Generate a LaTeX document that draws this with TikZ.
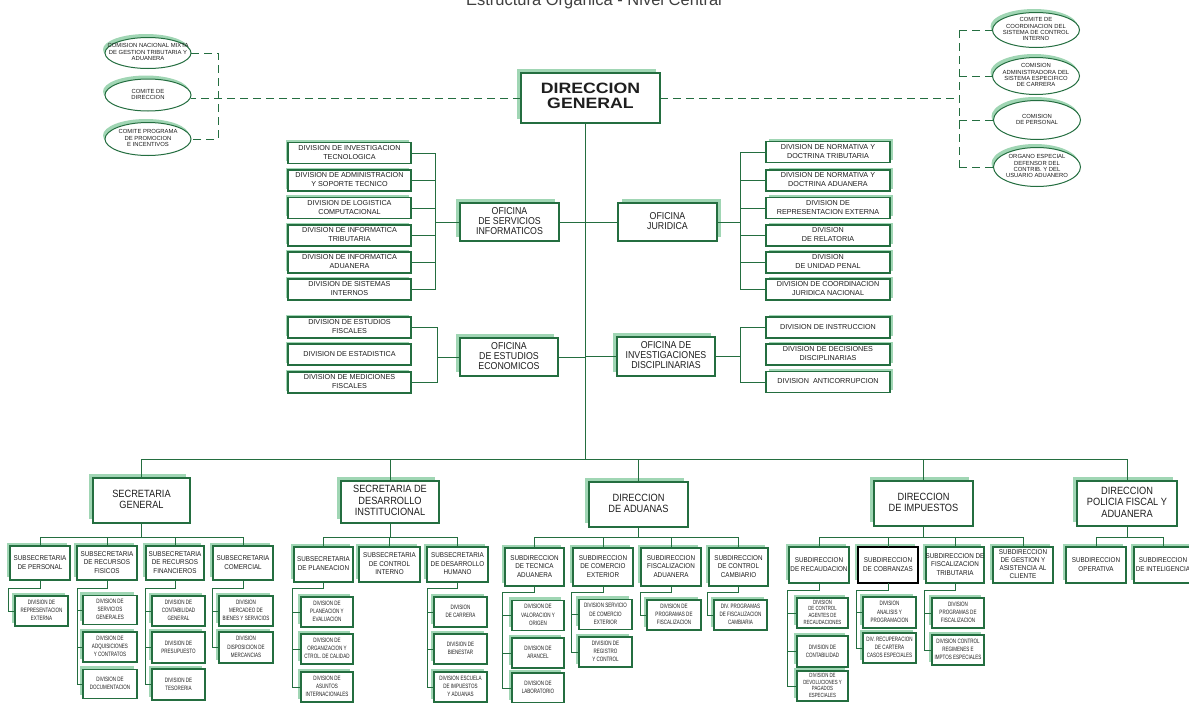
\documentclass[tikz,border=0pt]{standalone}
\usepackage{fontspec}
\setmainfont{Liberation Sans}
\newfontfamily\lsN{Liberation Sans}
\newfontfamily\lsA[FakeStretch=0.88]{Liberation Sans}
\newfontfamily\lsB[FakeStretch=0.72]{Liberation Sans}
\newfontfamily\lsS[FakeStretch=0.90]{Liberation Sans}
\newfontfamily\lsW[FakeStretch=1.18]{Liberation Sans}
\usetikzlibrary{shapes.geometric,shadows}

\definecolor{dgreen}{RGB}{36,110,64}
\definecolor{lgreen}{RGB}{160,214,180}
\definecolor{ink}{RGB}{30,30,30}

% multi-line label that never widens its box
\newcommand\mlines[1]{\makebox[0pt]{\begin{tabular}{@{}c@{}}#1\end{tabular}}}

\tikzset{
  conn/.style={draw=dgreen, line width=1pt},
  dashconn/.style={draw=dgreen, line width=1pt, dash pattern=on 8pt off 5pt},
  frame/.style={draw=dgreen, line width=1.2pt, fill=white, inner sep=0pt, outer sep=0pt, text=ink},
  shUL/.style={drop shadow={shadow xshift=-#1, shadow yshift=#1, fill=lgreen, opacity=1}},
  shUR/.style={drop shadow={shadow xshift=#1, shadow yshift=#1, fill=lgreen, opacity=1}},
  headbox/.style={frame, font={\lsW\bfseries\fontsize{15}{14}\selectfont}, shUL=4.5pt},
  office/.style={frame, font={\lsA\fontsize{10}{10}\selectfont}, shUL=4pt},
  officeR/.style={frame, font={\lsA\fontsize{10}{10}\selectfont}, shUR=4pt},
  divL/.style={frame, font={\lsN\fontsize{7.2}{8.6}\selectfont}, shUL=2.5pt, minimum width=123, minimum height=21},
  divR/.style={frame, font={\lsN\fontsize{7.2}{8.6}\selectfont}, shUR=2.5pt, minimum width=124, minimum height=21},
  bigbox/.style={frame, font={\lsA\fontsize{10.5}{11.5}\selectfont}, shUL=4pt},
  subbox/.style={frame, font={\lsS\fontsize{7}{8.6}\selectfont}, shUL=3pt},
  lowdiv/.style={frame, font={\lsB\fontsize{6.3}{8.2}\selectfont}, shUL=3.5pt},
  ell/.style={ellipse, draw=dgreen, line width=1pt, fill=white, inner sep=0pt, outer sep=0pt,
    drop shadow={shadow xshift=-2pt, shadow yshift=3.5pt, fill=lgreen, opacity=1}},
  elltext/.style={font={\lsN\fontsize{5.9}{6.4}\selectfont}, text=ink, inner sep=0pt},
}

\begin{document}
\begin{tikzpicture}[x=1pt,y=-1pt]
\fill[white] (0,0) rectangle (1189,702);
\useasboundingbox (0,0) rectangle (1189,702);

% ---------- title ----------
\node[font={\lsN\fontsize{16.5}{18}\selectfont}, text=ink!85, anchor=base, inner sep=0pt] (title) at (594,5) {Estructura Organica - Nivel Central};

% ---------- head ----------
\node[headbox, minimum width=139, minimum height=50] (dg) at (590.5,98) {\mlines{DIRECCION\\GENERAL}};

% ---------- committees ----------
\node[ell, minimum width=86, minimum height=31] (l1) at (148,53) {};
\node[elltext] (l1t) at (l1.center) {\mlines{COMISION NACIONAL MIXTA\\DE GESTION TRIBUTARIA Y\\ADUANERA}};
\node[ell, minimum width=86, minimum height=32] (l2) at (148,95) {};
\node[elltext] (l2t) at (l2.center) {\mlines{COMITE DE\\DIRECCION}};
\node[ell, minimum width=86, minimum height=33] (l3) at (148,139) {};
\node[elltext] (l3t) at (l3.center) {\mlines{COMITE PROGRAMA\\DE PROMOCION\\E INCENTIVOS}};

\node[ell, minimum width=87, minimum height=35] (r1) at (1036,30) {};
\node[elltext] (r1t) at (r1.center) {\mlines{COMITE DE\\COORDINACION DEL\\SISTEMA DE CONTROL\\INTERNO}};
\node[ell, minimum width=87, minimum height=37] (r2) at (1036,76) {};
\node[elltext] (r2t) at (r2.center) {\mlines{COMISION\\ADMINISTRADORA DEL\\SISTEMA ESPECIFICO\\DE CARRERA}};
\node[ell, minimum width=87, minimum height=39] (r3) at (1037,120) {};
\node[elltext] (r3t) at (r3.center) {\mlines{COMISION\\DE PERSONAL}};
\node[ell, minimum width=87, minimum height=39] (r4) at (1037,167) {};
\node[elltext] (r4t) at (r4.center) {\mlines{ORGANO ESPECIAL\\DEFENSOR DEL\\CONTRIB. Y DEL\\USUARIO ADUANERO}};

\coordinate (vl) at (218,0);
\coordinate (vr) at (959,0);
\draw[dashconn] (dg.west) -- (dg.west -| l2.east);
\draw[dashconn] (l1.east) -- (l1.east -| vl) -- (l3.east -| vl) -- (l3.east);
\draw[dashconn] (dg.east) -- (dg.east -| vr);
\draw[dashconn] (r1.west -| vr) -- (r4.west -| vr);
\foreach \n in {r1,r2,r3,r4} \draw[dashconn] (\n.west -| vr) -- (\n.west);

% ---------- staff offices ----------
\node[office, minimum width=99, minimum height=38] (osi) at (509.5,222) {\mlines{OFICINA\\DE SERVICIOS\\INFORMATICOS}};
\node[office, minimum width=98, minimum height=38] (oee) at (509,357) {\mlines{OFICINA\\DE ESTUDIOS\\ECONOMICOS}};
\node[officeR, minimum width=99, minimum height=38] (oju) at (667.5,222) {\mlines{OFICINA\\JURIDICA}};
\node[office, minimum width=98, minimum height=39] (oid) at (666,356.5) {\mlines{OFICINA DE\\INVESTIGACIONES\\DISCIPLINARIAS}};

\node[divL] (dsi1) at (349.5,153)   {\mlines{DIVISION DE INVESTIGACION\\TECNOLOGICA}};
\node[divL] (dsi2) at (349.5,180.5) {\mlines{DIVISION DE ADMINISTRACION\\Y SOPORTE TECNICO}};
\node[divL] (dsi3) at (349.5,208)   {\mlines{DIVISION DE LOGISTICA\\COMPUTACIONAL}};
\node[divL] (dsi4) at (349.5,235.5) {\mlines{DIVISION DE INFORMATICA\\TRIBUTARIA}};
\node[divL] (dsi5) at (349.5,262.5) {\mlines{DIVISION DE INFORMATICA\\ADUANERA}};
\node[divL] (dsi6) at (349.5,289.5) {\mlines{DIVISION DE SISTEMAS\\INTERNOS}};

\node[divL] (dee1) at (349.5,327.5) {\mlines{DIVISION DE ESTUDIOS\\FISCALES}};
\node[divL] (dee2) at (349.5,354.5) {\mlines{DIVISION DE ESTADISTICA}};
\node[divL] (dee3) at (349.5,382.5) {\mlines{DIVISION DE MEDICIONES\\FISCALES}};

\node[divR] (dju1) at (828,152)   {\mlines{DIVISION DE NORMATIVA Y\\DOCTRINA TRIBUTARIA}};
\node[divR] (dju2) at (828,180.5) {\mlines{DIVISION DE NORMATIVA Y\\DOCTRINA ADUANERA}};
\node[divR] (dju3) at (828,208)   {\mlines{DIVISION DE\\REPRESENTACION EXTERNA}};
\node[divR] (dju4) at (828,235.5) {\mlines{DIVISION\\DE RELATORIA}};
\node[divR] (dju5) at (828,262.5) {\mlines{DIVISION\\DE UNIDAD PENAL}};
\node[divR] (dju6) at (828,289.5) {\mlines{DIVISION DE COORDINACION\\JURIDICA NACIONAL}};

\node[divR] (did1) at (828,327.5) {\mlines{DIVISION DE INSTRUCCION}};
\node[divR] (did2) at (828,354.5) {\mlines{DIVISION DE DECISIONES\\DISCIPLINARIAS}};
\node[divR] (did3) at (828,382)   {\mlines{DIVISION\ \ ANTICORRUPCION}};

% trunk and office links
\coordinate (trk) at (585,0);
\coordinate (bus) at (0,459);
\draw[conn] (dg.south -| trk) -- (trk |- bus);
\foreach \n in {osi,oee} \draw[conn] (\n.east) -- (\n.east -| trk);
\foreach \n in {oju,oid} \draw[conn] (\n.west) -- (\n.west -| trk);

\coordinate (vsi) at (435,0);
\draw[conn] (osi.west) -- (osi.west -| vsi);
\draw[conn] (dsi1.east -| vsi) -- (dsi6.east -| vsi);
\foreach \n in {dsi1,dsi2,dsi3,dsi4,dsi5,dsi6} \draw[conn] (\n.east) -- (\n.east -| vsi);

\coordinate (vee) at (437,0);
\draw[conn] (oee.west) -- (oee.west -| vee);
\draw[conn] (dee1.east) -- (dee1.east -| vee) -- (dee3.east -| vee) -- (dee3.east);

\coordinate (vju) at (740,0);
\draw[conn] (oju.east) -- (oju.east -| vju);
\draw[conn] (dju1.west -| vju) -- (dju6.west -| vju);
\foreach \n in {dju1,dju2,dju3,dju4,dju5,dju6} \draw[conn] (\n.west) -- (\n.west -| vju);

\draw[conn] (oid.east) -- (oid.east -| vju);
\draw[conn] (did1.west) -- (did1.west -| vju) -- (did3.west -| vju) -- (did3.west);

% ---------- line directorates ----------
\node[bigbox, minimum width=97, minimum height=45] (sg)  at (141.5,500.5) {\mlines{SECRETARIA\\GENERAL}};
\node[bigbox, minimum width=98, minimum height=42] (sdi) at (390,502)     {\mlines{SECRETARIA DE\\DESARROLLO\\INSTITUCIONAL}};
\node[bigbox, minimum width=99, minimum height=45] (da)  at (638.5,504.5) {\mlines{DIRECCION\\DE ADUANAS}};
\node[bigbox, minimum width=99, minimum height=45] (di)  at (923.5,503.5) {\mlines{DIRECCION\\DE IMPUESTOS}};
\node[bigbox, minimum width=100, minimum height=45] (pf) at (1127,503.5)  {\mlines{DIRECCION\\POLICIA FISCAL Y\\ADUANERA}};

\draw[conn] (sg.north) -- (sg.north |- bus) -- (pf.north |- bus) -- (pf.north);
\foreach \n in {sdi,da,di} \draw[conn] (\n.north) -- (\n.north |- bus);

\coordinate (sbus) at (0,537);

% Secretaria General
\node[subbox, minimum width=60, minimum height=34] (sg1) at (40,563)  {\mlines{SUBSECRETARIA\\DE PERSONAL}};
\node[subbox, minimum width=60, minimum height=34] (sg2) at (107,563) {\mlines{SUBSECRETARIA\\DE RECURSOS\\FISICOS}};
\node[subbox, minimum width=58, minimum height=34] (sg3) at (175,563) {\mlines{SUBSECRETARIA\\DE RECURSOS\\FINANCIEROS}};
\node[subbox, minimum width=60, minimum height=34] (sg4) at (243,563) {\mlines{SUBSECRETARIA\\COMERCIAL}};

\node[lowdiv, minimum width=53, minimum height=30] (sg1a) at (41.5,611) {\mlines{DIVISION DE\\REPRESENTACION\\EXTERNA}};
\node[lowdiv, minimum width=54, minimum height=29] (sg2a) at (110,610)  {\mlines{DIVISION DE\\SERVICIOS\\GENERALES}};
\node[lowdiv, minimum width=54, minimum height=30] (sg2b) at (110,647)  {\mlines{DIVISION DE\\ADQUISICIONES\\Y CONTRATOS}};
\node[lowdiv, minimum width=54, minimum height=29] (sg2c) at (110,684)  {\mlines{DIVISION DE\\DOCUMENTACION}};
\node[lowdiv, minimum width=53, minimum height=30] (sg3a) at (178.5,611) {\mlines{DIVISION DE\\CONTABILIDAD\\GENERAL}};
\node[lowdiv, minimum width=53, minimum height=31] (sg3b) at (178.5,647.5) {\mlines{DIVISION DE\\PRESUPUESTO}};
\node[lowdiv, minimum width=53, minimum height=31] (sg3c) at (178.5,684.5) {\mlines{DIVISION DE\\TESORERIA}};
\node[lowdiv, minimum width=54, minimum height=30] (sg4a) at (246,611)  {\mlines{DIVISION\\MERCADEO DE\\BIENES Y SERVICIOS}};
\node[lowdiv, minimum width=54, minimum height=31] (sg4b) at (246,647.5) {\mlines{DIVISION\\DISPOSICION DE\\MERCANCIAS}};

\draw[conn] (sg.south) -- (sg.south |- sbus);
\draw[conn] (sg1.north) -- (sg1.north |- sbus) -- (sg4.north |- sbus) -- (sg4.north);
\foreach \n in {sg2,sg3} \draw[conn] (\n.north) -- (\n.north |- sbus);

\coordinate (tsg) at (0,588);
\coordinate (vsg1) at (8,0);
\coordinate (vsg2) at (77,0);
\coordinate (vsg3) at (145,0);
\coordinate (vsg4) at (212,0);
\draw[conn] (sg1.south) -- (sg1.south |- tsg) -- (vsg1 |- tsg) -- (vsg1 |- sg1a.west) -- (sg1a.west);
\draw[conn] (sg2.south) -- (sg2.south |- tsg) -- (vsg2 |- tsg) -- (vsg2 |- sg2c.west) -- (sg2c.west);
\draw[conn] (sg3.south) -- (sg3.south |- tsg) -- (vsg3 |- tsg) -- (vsg3 |- sg3c.west) -- (sg3c.west);
\draw[conn] (sg4.south) -- (sg4.south |- tsg) -- (vsg4 |- tsg) -- (vsg4 |- sg4b.west) -- (sg4b.west);
\foreach \n in {sg2a,sg2b} \draw[conn] (\n.west) -- (\n.west -| vsg2);
\foreach \n in {sg3a,sg3b} \draw[conn] (\n.west) -- (\n.west -| vsg3);
\draw[conn] (sg4a.west) -- (sg4a.west -| vsg4);

% Secretaria de Desarrollo Institucional
\node[subbox, minimum width=59, minimum height=35] (sd1) at (323.5,564.5) {\mlines{SUBSECRETARIA\\DE PLANEACION}};
\node[subbox, minimum width=61, minimum height=35] (sd2) at (389.5,564.5) {\mlines{SUBSECRETARIA\\DE CONTROL\\INTERNO}};
\node[subbox, minimum width=61, minimum height=35] (sd3) at (457.5,564.5) {\mlines{SUBSECRETARIA\\DE DESARROLLO\\HUMANO}};

\node[lowdiv, minimum width=52, minimum height=30] (sd1a) at (327,612) {\mlines{DIVISION DE\\PLANEACION Y\\EVALUACION}};
\node[lowdiv, minimum width=52, minimum height=30] (sd1b) at (327,649) {\mlines{DIVISION DE\\ORGANIZACION Y\\CTROL. DE CALIDAD}};
\node[lowdiv, minimum width=52, minimum height=30] (sd1c) at (327,687) {\mlines{DIVISION DE\\ASUNTOS\\INTERNACIONALES}};
\node[lowdiv, minimum width=53, minimum height=30] (sd3a) at (460.5,612) {\mlines{DIVISION\\DE CARRERA}};
\node[lowdiv, minimum width=53, minimum height=30] (sd3b) at (460.5,649) {\mlines{DIVISION DE\\BIENESTAR}};
\node[lowdiv, minimum width=53, minimum height=30] (sd3c) at (460.5,687) {\mlines{DIVISION ESCUELA\\DE IMPUESTOS\\Y ADUANAS}};

\draw[conn] (sdi.south) -- (sdi.south |- sbus);
\draw[conn] (sd1.north) -- (sd1.north |- sbus) -- (sd3.north |- sbus) -- (sd3.north);
\draw[conn] (sd2.north) -- (sd2.north |- sbus);
\coordinate (vsd1) at (292,0);
\coordinate (vsd3) at (427,0);
\draw[conn] (sd1.south) -- (sd1.south |- tsg) -- (vsd1 |- tsg) -- (vsd1 |- sd1c.west) -- (sd1c.west);
\draw[conn] (sd3.south) -- (sd3.south |- tsg) -- (vsd3 |- tsg) -- (vsd3 |- sd3c.west) -- (sd3c.west);
\foreach \n in {sd1a,sd1b} \draw[conn] (\n.west) -- (\n.west -| vsd1);
\foreach \n in {sd3a,sd3b} \draw[conn] (\n.west) -- (\n.west -| vsd3);

% Direccion de Aduanas
\node[subbox, minimum width=59, minimum height=38] (da1) at (534.5,567) {\mlines{SUBDIRECCION\\DE TECNICA\\ADUANERA}};
\node[subbox, minimum width=60, minimum height=38] (da2) at (603,567)   {\mlines{SUBDIRECCION\\DE COMERCIO\\EXTERIOR}};
\node[subbox, minimum width=60, minimum height=38] (da3) at (671,567)   {\mlines{SUBDIRECCION\\FISCALIZACION\\ADUANERA}};
\node[subbox, minimum width=59, minimum height=38] (da4) at (738.5,567) {\mlines{SUBDIRECCION\\DE CONTROL\\CAMBIARIO}};

\node[lowdiv, minimum width=52, minimum height=30] (da1a) at (538,615.5) {\mlines{DIVISION DE\\VALORACION Y\\ORIGEN}};
\node[lowdiv, minimum width=52, minimum height=30] (da1b) at (538,653)   {\mlines{DIVISION DE\\ARANCEL}};
\node[lowdiv, minimum width=52, minimum height=30] (da1c) at (538,688)   {\mlines{DIVISION DE\\LABORATORIO}};
\node[lowdiv, minimum width=53, minimum height=30] (da2a) at (605.5,614.5) {\mlines{DIVISION SERVICIO\\DE COMERCIO\\EXTERIOR}};
\node[lowdiv, minimum width=53, minimum height=30] (da2b) at (605.5,652) {\mlines{DIVISION DE\\REGISTRO\\Y CONTROL}};
\node[lowdiv, minimum width=54, minimum height=30] (da3a) at (674,615)   {\mlines{DIVISION DE\\PROGRAMAS DE\\FISCALIZACION}};
\node[lowdiv, minimum width=53, minimum height=30] (da4a) at (740.5,615) {\mlines{DIV. PROGRAMAS\\DE FISCALIZACION\\CAMBIARIA}};

\draw[conn] (da.south) -- (da.south |- sbus);
\draw[conn] (da1.north) -- (da1.north |- sbus) -- (da4.north |- sbus) -- (da4.north);
\foreach \n in {da2,da3} \draw[conn] (\n.north) -- (\n.north |- sbus);
\coordinate (tda) at (0,592);
\coordinate (vda1) at (502,0);
\coordinate (vda2) at (571,0);
\coordinate (vda3) at (640,0);
\coordinate (vda4) at (707,0);
\draw[conn] (da1.south) -- (da1.south |- tda) -- (vda1 |- tda) -- (vda1 |- da1c.west) -- (da1c.west);
\draw[conn] (da2.south) -- (da2.south |- tda) -- (vda2 |- tda) -- (vda2 |- da2b.west) -- (da2b.west);
\draw[conn] (da3.south) -- (da3.south |- tda) -- (vda3 |- tda) -- (vda3 |- da3a.west) -- (da3a.west);
\draw[conn] (da4.south) -- (da4.south |- tda) -- (vda4 |- tda) -- (vda4 |- da4a.west) -- (da4a.west);
\foreach \n in {da1a,da1b} \draw[conn] (\n.west) -- (\n.west -| vda1);
\draw[conn] (da2a.west) -- (da2a.west -| vda2);

% Direccion de Impuestos
\node[subbox, minimum width=60, minimum height=36] (di1) at (819,565)  {\mlines{SUBDIRECCION\\DE RECAUDACION}};
\node[subbox, minimum width=60, minimum height=36, draw=black] (di2) at (888,565) {\mlines{SUBDIRECCION\\DE COBRANZAS}};
\node[subbox, minimum width=58, minimum height=36] (di3) at (955,565)  {\mlines{SUBDIRECCION DE\\FISCALIZACION\\TRIBUTARIA}};
\node[subbox, minimum width=60, minimum height=36, font={\lsS\fontsize{7}{7.8}\selectfont}] (di4) at (1023,565) {\mlines{SUBDIRECCION\\DE GESTION Y\\ASISTENCIA AL\\CLIENTE}};

\node[lowdiv, minimum width=51, minimum height=30, font={\lsB\fontsize{6}{6.7}\selectfont}] (di1a) at (822.5,613) {\mlines{DIVISION\\DE CONTROL\\AGENTES DE\\RECAUDACIONES}};
\node[lowdiv, minimum width=51, minimum height=31] (di1b) at (822.5,651.5) {\mlines{DIVISION DE\\CONTABILIDAD}};
\node[lowdiv, minimum width=51, minimum height=30, font={\lsB\fontsize{6}{6.7}\selectfont}] (di1c) at (822.5,686) {\mlines{DIVISION DE\\DEVOLUCIONES Y\\PAGADOS\\ESPECIALES}};
\node[lowdiv, minimum width=53, minimum height=31] (di2a) at (889.5,612.5) {\mlines{DIVISION\\ANALISIS Y\\PROGRAMACION}};
\node[lowdiv, minimum width=53, minimum height=30] (di2b) at (889.5,648)   {\mlines{DIV. RECUPERACION\\DE CARTERA\\CASOS ESPECIALES}};
\node[lowdiv, minimum width=52, minimum height=30] (di3a) at (958,613) {\mlines{DIVISION\\PROGRAMAS DE\\FISCALIZACION}};
\node[lowdiv, minimum width=52, minimum height=30] (di3b) at (958,650) {\mlines{DIVISION CONTROL\\REGIMENES E\\IMPTOS ESPECIALES}};

\draw[conn] (di.south) -- (di.south |- sbus);
\draw[conn] (di1.north) -- (di1.north |- sbus) -- (di4.north |- sbus) -- (di4.north);
\foreach \n in {di2,di3} \draw[conn] (\n.north) -- (\n.north |- sbus);
\coordinate (tdi) at (0,590);
\coordinate (vdi1) at (787,0);
\coordinate (vdi2) at (856,0);
\coordinate (vdi3) at (924,0);
\draw[conn] (di1.south) -- (di1.south |- tdi) -- (vdi1 |- tdi) -- (vdi1 |- di1c.west) -- (di1c.west);
\draw[conn] (di2.south) -- (di2.south |- tdi) -- (vdi2 |- tdi) -- (vdi2 |- di2b.west) -- (di2b.west);
\draw[conn] (di3.south) -- (di3.south |- tdi) -- (vdi3 |- tdi) -- (vdi3 |- di3b.west) -- (di3b.west);
\foreach \n in {di1a,di1b} \draw[conn] (\n.west) -- (\n.west -| vdi1);
\draw[conn] (di2a.west) -- (di2a.west -| vdi2);
\draw[conn] (di3a.west) -- (di3a.west -| vdi3);

% Direccion Policia Fiscal y Aduanera
\node[subbox, minimum width=60, minimum height=36] (pf1) at (1096,565) {\mlines{SUBDIRECCION\\OPERATIVA}};
\node[subbox, minimum width=58, minimum height=36] (pf2) at (1163,565) {\mlines{SUBDIRECCION\\DE INTELIGENCIA}};
\draw[conn] (pf.south) -- (pf.south |- sbus);
\draw[conn] (pf1.north) -- (pf1.north |- sbus) -- (pf2.north |- sbus) -- (pf2.north);
\end{tikzpicture}
\end{document}
